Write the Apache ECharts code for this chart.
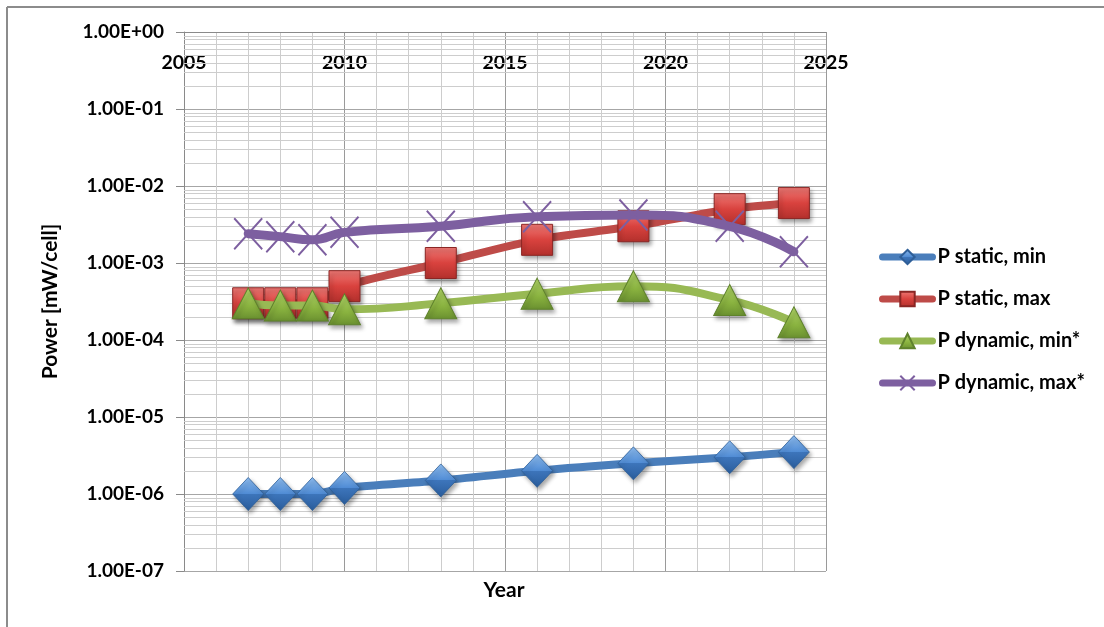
<!DOCTYPE html>
<html>
<head>
<meta charset="utf-8">
<script src="https://cdn.jsdelivr.net/npm/echarts@6/dist/echarts.min.js"></script>
<style>
  html, body { margin: 0; padding: 0; background: #fff; }
  #chart { width: 1104px; height: 627px; }
</style>
</head>
<body>
<div id="chart"></div>
<script>
// Years of each data point
const years = [2007, 2008, 2009, 2010, 2013, 2016, 2019, 2022, 2024];
// Power per cell, mW/cell
const staticMin  = [1.0e-6, 1.0e-6, 1.0e-6, 1.2e-6, 1.5e-6, 2.0e-6, 2.5e-6, 3.0e-6, 3.5e-6];
const staticMax  = [3.0e-4, 3.0e-4, 3.0e-4, 5.0e-4, 1.0e-3, 2.0e-3, 3.0e-3, 5.0e-3, 6.0e-3];
const dynamicMin = [3.0e-4, 2.8e-4, 2.8e-4, 2.5e-4, 3.0e-4, 4.0e-4, 5.0e-4, 3.3e-4, 1.7e-4];
const dynamicMax = [2.4e-3, 2.2e-3, 2.0e-3, 2.5e-3, 3.0e-3, 4.0e-3, 4.2e-3, 3.0e-3, 1.4e-3];
const seriesNames = ['P static, min', 'P static, max', 'P dynamic, min*', 'P dynamic, max*'];

// Axis ranges
const yearMin = 2005, yearMax = 2025, yearStep = 5;
const expMin = -7, expMax = 0;

const FONT = 'Lato, "Open Sans", sans-serif';

// minor log gridlines: 2..9 within every decade
const minorValues = [];
for (let e = expMin; e < expMax; e++) {
  for (let k = 2; k <= 9; k++) minorValues.push(k * Math.pow(10, e));
}

function sciLabel(v) {
  const e = Math.round(Math.log10(v));
  const m = v / Math.pow(10, e);
  return m.toFixed(2) + 'E' + (e < 0 ? '-' : '+') + String(Math.abs(e)).padStart(2, '0');
}

const pair = arr => years.map((y, i) => [y, arr[i]]);

const shadow = { shadowBlur: 4, shadowOffsetX: 2, shadowOffsetY: 3, shadowColor: 'rgba(0,0,0,0.35)' };

function vgrad(stops) {
  return new echarts.graphic.LinearGradient(0, 0, 0, 1, stops.map(c => ({ offset: c[0], color: c[1] })));
}

const chart = echarts.init(document.getElementById('chart'), null, { renderer: 'canvas' });

chart.setOption({
  animation: false,
  backgroundColor: '#ffffff',
  grid: { left: 184, top: 32, width: 642, height: 539, containLabel: false },
  xAxis: {
    type: 'value',
    position: 'top',
    min: yearMin, max: yearMax, interval: yearStep,
    axisLine: { show: true, onZero: false, lineStyle: { color: '#8a8a8a', width: 1 } },
    axisTick: { show: false },
    axisLabel: { inside: true, margin: 21, color: '#000', fontFamily: FONT, fontWeight: 'bold', fontSize: 19.5,
                 formatter: v => String(v) },
    splitLine: { show: true, lineStyle: { color: '#9a9a9a', width: 1 } },
    minorTick: { show: false, splitNumber: 5 },
    minorSplitLine: { show: true, lineStyle: { color: '#cdcdcd', width: 1 } }
  },
  yAxis: {
    type: 'log',
    logBase: 10,
    min: Math.pow(10, expMin), max: Math.pow(10, expMax),
    interval: 1,
    name: 'Power [mW/cell]',
    nameLocation: 'middle',
    nameGap: 123,
    nameRotate: 90,
    nameTextStyle: { color: '#000', fontFamily: FONT, fontWeight: 'bold', fontSize: 21 },
    axisLine: { show: true, lineStyle: { color: '#8a8a8a', width: 1 } },
    axisTick: { show: true, length: 8, lineStyle: { color: '#8a8a8a' } },
    axisLabel: { margin: 20, color: '#000', fontFamily: FONT, fontWeight: 'bold', fontSize: 19, formatter: sciLabel },
    splitLine: { show: true, lineStyle: { color: '#a6a6a6', width: 1 } }
  },
  legend: {
    orient: 'vertical',
    left: 879, top: 247,
    padding: 0,
    itemWidth: 50, itemHeight: 18,
    itemGap: 22,
    lineStyle: { width: 7, cap: 'round' },
    textStyle: { color: '#000', fontFamily: FONT, fontWeight: 'bold', fontSize: 20, lineHeight: 18 },
    data: seriesNames
  },
  graphic: [
    { type: 'line', shape: { x1: 7, y1: 7, x2: 1104, y2: 7 }, style: { stroke: '#8c8c8c', lineWidth: 2 }, silent: true },
    { type: 'line', shape: { x1: 7, y1: 7, x2: 7, y2: 627 }, style: { stroke: '#8c8c8c', lineWidth: 2 }, silent: true },
    { type: 'text', x: 504, y: 590, style: { text: 'Year', fill: '#000', font: 'bold 21px ' + FONT, textAlign: 'center', textVerticalAlign: 'middle' }, silent: true }
  ],
  series: [
    {
      // minor gridlines of the logarithmic axis, placed through the axis scale
      type: 'custom', silent: true, z: 1,
      data: minorValues.map(v => [yearMin, v]),
      renderItem: (params, api) => {
        const v = api.value(1);
        const a = api.coord([yearMin, v]);
        const b = api.coord([yearMax, v]);
        return {
          type: 'line',
          shape: { x1: a[0], y1: Math.round(a[1]) + 0.5, x2: b[0], y2: Math.round(b[1]) + 0.5 },
          style: { stroke: '#cdcdcd', lineWidth: 1 }
        };
      }
    },
    {
      name: seriesNames[0], type: 'line', z: 3, smooth: 0.3,
      data: pair(staticMin),
      lineStyle: { color: '#4a7ebb', width: 8, cap: 'round' },
      symbol: 'diamond', symbolSize: [31, 33],
      itemStyle: Object.assign({
        color: vgrad([[0, '#8fbdf0'], [0.5, '#4f8bd4'], [0.5, '#3d75bb'], [1, '#2a5d9c']]),
        borderColor: '#2f5f98', borderWidth: 0.8
      }, shadow)
    },
    {
      name: seriesNames[1], type: 'line', z: 4, smooth: 0.3,
      data: pair(staticMax),
      lineStyle: { color: '#be4b48', width: 8, cap: 'round' },
      symbol: 'rect', symbolSize: 31,
      itemStyle: Object.assign({
        color: vgrad([[0, '#ef7b77'], [0.5, '#d9423e'], [1, '#b2302c']]),
        borderColor: '#8a2624', borderWidth: 1
      }, shadow)
    },
    {
      name: seriesNames[2], type: 'line', z: 5, smooth: 0.5,
      data: pair(dynamicMin),
      lineStyle: { color: '#98b954', width: 8, cap: 'round' },
      symbol: 'triangle', symbolSize: [32, 31],
      itemStyle: Object.assign({
        color: vgrad([[0, '#b3d86a'], [0.6, '#89b23f'], [1, '#6a9030']]),
        borderColor: '#5f822c', borderWidth: 1
      }, shadow)
    },
    {
      name: seriesNames[3], type: 'line', z: 6, smooth: 0.5,
      data: pair(dynamicMax),
      lineStyle: { color: '#7d5fa0', width: 9, cap: 'round' },
      symbol: 'path://M0,0L10,11M10,0L0,11', symbolSize: [28, 31],
      itemStyle: { color: 'rgba(0,0,0,0)', borderColor: '#7d5fa0', borderWidth: 2 }
    }
  ]
});
</script>
</body>
</html>
